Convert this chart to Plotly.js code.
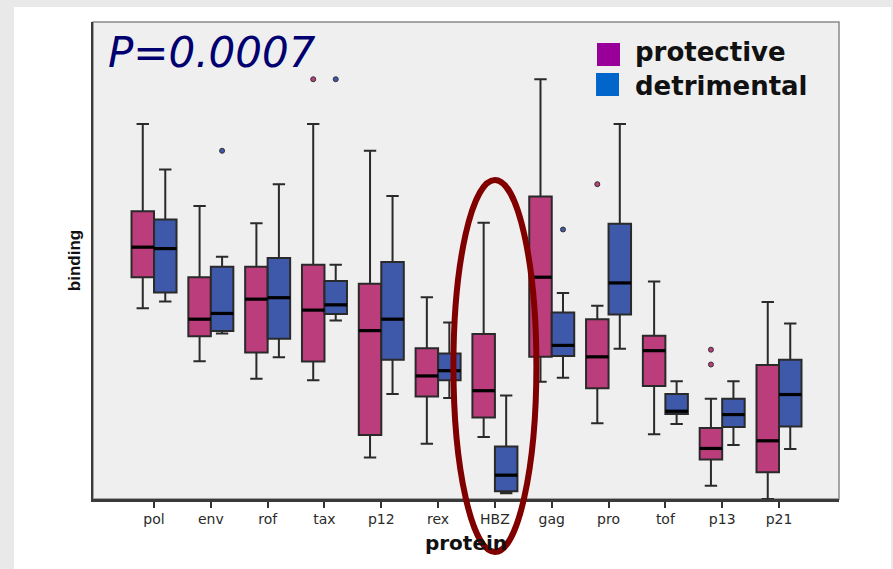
<!DOCTYPE html>
<html>
<head>
<meta charset="utf-8">
<script src="https://cdn.plot.ly/plotly-3.0.1.min.js"></script>
<style>
  html, body { margin: 0; padding: 0; background: #e9e9e9; width: 893px; height: 569px; overflow: hidden; }
  #chart { position: absolute; left: 14px; top: 7px; width: 877px; height: 562px; background: #ffffff; }
</style>
</head>
<body>
<div id="chart"></div>
<script>
// Proteins on the x axis
const categories = ['pol', 'env', 'rof', 'tax', 'p12', 'rex', 'HBZ', 'gag', 'pro', 'tof', 'p13', 'p21'];

// Box statistics for the "protective" group (binding, arbitrary units)
const protUpper  = [78.6, 61.4, 57.8, 78.6, 73.0, 42.3, 57.9, 88.0, 40.5, 45.6, 21.0, 41.3];
const protQ3     = [60.3, 46.5, 48.7, 49.1, 45.1, 31.6, 34.6, 63.4, 37.7, 34.2, 14.9, 28.1];
const protMedian = [52.8, 37.7, 41.9, 39.6, 35.3, 25.8, 22.7, 46.5, 29.8, 31.1, 10.6, 12.2];
const protQ1     = [46.5, 34.1, 30.7, 28.8, 13.4, 21.5, 17.1, 29.8, 23.2, 23.7, 8.3, 5.6];
const protLower  = [40.0, 28.9, 25.2, 24.9, 8.7, 11.6, 13.0, 24.6, 15.9, 13.6, 2.8, 0.0];

// Box statistics for the "detrimental" group
const detUpper  = [69.1, 50.8, 66.0, 49.1, 63.5, 37.0, 21.7, 43.2, 78.6, 24.7, 24.7, 36.8];
const detQ3     = [58.6, 48.7, 50.5, 45.7, 49.7, 30.5, 11.0, 39.1, 57.7, 22.0, 21.0, 29.2];
const detMedian = [52.5, 38.9, 42.2, 40.7, 37.7, 26.9, 5.0, 32.2, 45.3, 18.4, 17.7, 21.9];
const detQ1     = [43.3, 35.2, 33.6, 38.8, 29.2, 24.9, 1.6, 30.0, 38.7, 17.8, 15.1, 15.2];
const detLower  = [41.4, 34.7, 29.7, 37.4, 22.0, 21.2, 1.2, 25.4, 31.5, 15.7, 11.3, 10.5];

// Outliers
const protOutCat = ['tax', 'pro', 'p13', 'p13'];
const protOutVal = [88.0, 66.0, 31.3, 28.2];
const detOutCat  = ['env', 'tax', 'gag'];
const detOutVal  = [73.0, 88.0, 56.5];

const pValueText = 'P=0.0007';
const seriesNames = ['protective', 'detrimental'];

// ---- drawing ----
const boxWidth = 0.396;
const half = boxWidth / 2;
const protFill = '#bc3d7b';
const detFill = '#3e58aa';
const edge = '#2a2a2a';
const idx = categories.map((_, i) => i);
const xRange = [-1.074, 12.056];
const highlight = categories.indexOf('HBZ');

function boxTrace(name, offset, fill, q1, med, q3, lo, hi) {
  return {
    type: 'box', name: name,
    x: idx.map(i => i + offset),
    q1: q1, median: med, q3: q3, lowerfence: lo, upperfence: hi,
    width: boxWidth, whiskerwidth: 0.55,
    fillcolor: fill, line: { color: edge, width: 2 },
    boxpoints: false, showlegend: false, hoverinfo: 'y'
  };
}

// heavier median bars drawn over each box
function medianTrace(offset, med) {
  const xs = [], ys = [];
  idx.forEach(i => {
    xs.push(i + offset - half, i + offset + half, null);
    ys.push(med[i], med[i], null);
  });
  return {
    type: 'scatter', mode: 'lines', x: xs, y: ys,
    line: { color: '#000000', width: 3.2 },
    showlegend: false, hoverinfo: 'skip'
  };
}

function outlierTrace(cats, vals, offset, fill) {
  return {
    type: 'scatter', mode: 'markers',
    x: cats.map(c => categories.indexOf(c) + offset), y: vals,
    marker: { color: fill, size: 5, line: { color: '#333333', width: 1 } },
    showlegend: false, hoverinfo: 'y'
  };
}

const data = [
  boxTrace(seriesNames[0], -half, protFill, protQ1, protMedian, protQ3, protLower, protUpper),
  boxTrace(seriesNames[1], half, detFill, detQ1, detMedian, detQ3, detLower, detUpper),
  medianTrace(-half, protMedian),
  medianTrace(half, detMedian),
  outlierTrace(protOutCat, protOutVal, -half, protFill),
  outlierTrace(detOutCat, detOutVal, half, detFill)
];

const layout = {
  width: 877, height: 562,
  margin: { l: 79, r: 52, t: 15, b: 70 },
  paper_bgcolor: '#ffffff',
  plot_bgcolor: '#efefef',
  boxmode: 'overlay',
  showlegend: false,
  xaxis: {
    range: xRange, tickmode: 'array', tickvals: idx, ticktext: categories,
    showgrid: false, zeroline: false,
    showline: true, linecolor: '#3a3a3a', linewidth: 2.5,
    ticks: 'outside', ticklen: 6, tickwidth: 2, tickcolor: '#333333',
    tickfont: { family: 'DejaVu Sans, sans-serif', size: 14, color: '#2a2a2a' },
    title: { text: '<b>protein</b>', standoff: 10,
             font: { family: 'DejaVu Sans, sans-serif', size: 20, color: '#111111' } }
  },
  yaxis: {
    range: [0, 100], showgrid: false, zeroline: false,
    showline: true, linecolor: '#3a3a3a', linewidth: 2.5,
    showticklabels: false, ticks: '',
    title: { text: '<b>binding</b>', standoff: 6,
             font: { family: 'Liberation Sans, Arial, sans-serif', size: 17, color: '#111111' } }
  },
  shapes: [
    // frame around the plotting area
    { type: 'rect', xref: 'paper', yref: 'paper', x0: 0, x1: 1, y0: 0, y1: 1,
      line: { color: '#8a8a8a', width: 1.5 }, layer: 'below' },
    // legend swatches
    { type: 'rect', xref: 'paper', yref: 'paper', x0: 0.6756, x1: 0.7064, y0: 0.9078, y1: 0.956,
      fillcolor: '#990099', line: { width: 0 } },
    { type: 'rect', xref: 'paper', yref: 'paper', x0: 0.6743, x1: 0.7051, y0: 0.8449, y1: 0.8931,
      fillcolor: '#0066cc', line: { width: 0 } },
    // ring around the HBZ pair
    { type: 'circle', xref: 'x', yref: 'paper',
      x0: highlight - 0.73, x1: highlight + 0.73, y0: -0.111, y1: 0.669,
      line: { color: '#800000', width: 6 }, layer: 'above' }
  ],
  annotations: [
    { xref: 'paper', yref: 'paper', x: 0.018, y: 0.937, xanchor: 'left', yanchor: 'middle',
      text: '<i>' + pValueText + '</i>', showarrow: false,
      font: { family: 'DejaVu Sans, sans-serif', size: 42, color: '#000070' } },
    // legend labels, one block so the two lines share spacing
    { xref: 'paper', yref: 'paper', x: 0.7239, y: 0.901, xanchor: 'left', yanchor: 'middle',
      align: 'left', showarrow: false,
      text: '<b>' + seriesNames[0] + '</b><br><b>' + seriesNames[1] + '</b>',
      font: { family: 'DejaVu Sans, sans-serif', size: 26, color: '#111111' } }
  ]
};

Plotly.newPlot('chart', data, layout, { displayModeBar: false, staticPlot: true });
</script>
</body>
</html>
